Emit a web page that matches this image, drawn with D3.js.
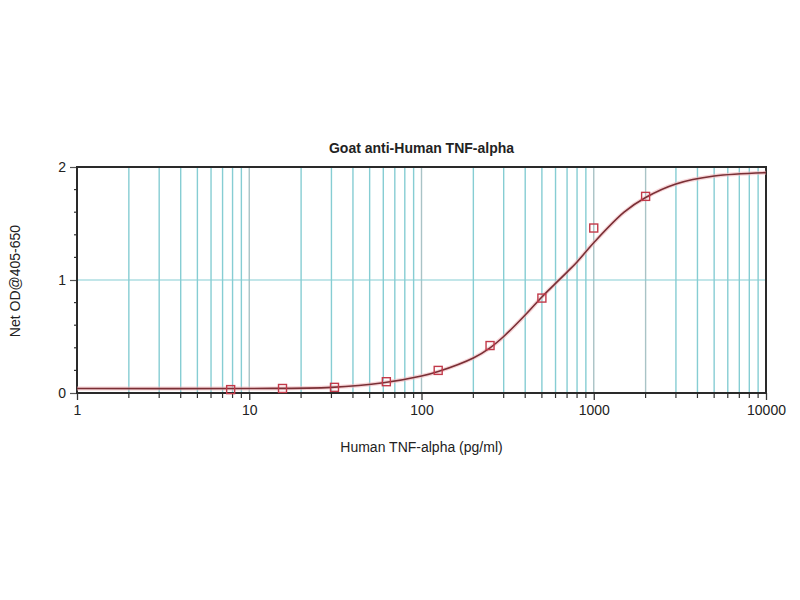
<!DOCTYPE html>
<html><head><meta charset="utf-8">
<script src="https://cdn.jsdelivr.net/npm/d3@7"></script>
<style>body{margin:0;background:#fff}svg{display:block}text{font-family:"Liberation Sans",Arial,sans-serif;fill:#222}</style>
</head><body><svg id="c" width="800" height="600"></svg>
<script>
const title = "Goat anti-Human TNF-alpha";
const xTitle = "Human TNF-alpha (pg/ml)";
const yTitle = "Net OD@405-650";
const xTickValues = [1, 10, 100, 1000, 10000];
const yTickValues = [0, 1, 2];
// measured standards
const pointX = [7.8, 15.6, 31.25, 62.5, 125, 250, 500, 1000, 2000];
const pointY = [0.03, 0.04, 0.05, 0.10, 0.20, 0.42, 0.84, 1.46, 1.74];
// fitted curve
const curveX = [1, 10, 30, 60, 100, 125, 200, 250, 300, 400, 500, 600, 700, 800, 1000, 1500, 2000, 3000, 5000, 10000];
const curveY = [0.04, 0.04, 0.05, 0.09, 0.15, 0.19, 0.31, 0.40, 0.50, 0.69, 0.85, 0.97, 1.07, 1.16, 1.33, 1.60, 1.73, 1.85, 1.92, 1.95];

const svg = d3.select("#c");
const L = 77, R = 766, T = 167, B = 393;
const x = d3.scaleLog().domain([1, 10000]).range([L, R]);
const y = d3.scaleLinear().domain([0, 2]).range([B, T]);

// minor values 2..9 per decade
const minor = [];
for (let d = 1; d < 10000; d *= 10) for (let k = 2; k <= 9; k++) minor.push(d * k);
const allX = minor.concat([10, 100, 1000]);

const grid = svg.append("g");
grid.selectAll("line.v").data(allX).enter().append("line")
  .attr("x1", d => x(d)).attr("x2", d => x(d)).attr("y1", T).attr("y2", B)
  .attr("stroke", (d, i) => [10,100,1000,2000].includes(d) ? "#a9c3c6" : "#86cdd3").attr("stroke-width", 1.4);
grid.append("line").attr("x1", L).attr("x2", R).attr("y1", y(1)).attr("y2", y(1))
  .attr("stroke", "#86cdd3").attr("stroke-width", 1.2);

// axes
const xAxis = d3.axisBottom(x).tickValues(xTickValues).tickFormat(d3.format("d")).tickSize(7).tickPadding(5);
const gx = svg.append("g").attr("transform", `translate(0,${B})`).call(xAxis);
gx.select(".domain").remove();
gx.selectAll("text").attr("font-size", 14).attr("fill", "#222");
gx.selectAll("line").attr("stroke", "#333").attr("stroke-width", 1.3);
svg.append("g").selectAll("line").data(minor).enter().append("line")
  .attr("x1", d => x(d)).attr("x2", d => x(d)).attr("y1", B).attr("y2", B + 5)
  .attr("stroke", "#333").attr("stroke-width", 1.2);

const yAxis = d3.axisLeft(y).tickValues(yTickValues).tickFormat(d3.format("d")).tickSize(7).tickPadding(4);
const gy = svg.append("g").attr("transform", `translate(${L},0)`).call(yAxis);
gy.select(".domain").remove();
gy.selectAll("text").attr("font-size", 14).attr("fill", "#222");
gy.selectAll("line").attr("stroke", "#555").attr("stroke-width", 1.2);
const yMinor = d3.range(0.2, 2, 0.2).filter(v => Math.abs(v - 1) > 0.01);
svg.append("g").selectAll("line").data(yMinor).enter().append("line")
  .attr("x1", L - 3).attr("x2", L).attr("y1", d => y(d)).attr("y2", d => y(d))
  .attr("stroke", "#333").attr("stroke-width", 1.2);

// frame
svg.append("rect").attr("x", L).attr("y", T).attr("width", R - L).attr("height", B - T)
  .attr("fill", "none").attr("stroke", "#2a2a2a").attr("stroke-width", 2);

// curve
const line = d3.line().x(d => x(d[0])).y(d => y(d[1])).curve(d3.curveCatmullRom.alpha(0.5));
svg.append("path").datum(curveX.map((v, i) => [v, curveY[i]]))
  .attr("d", line).attr("fill", "none").attr("stroke", "#f0b8bc").attr("stroke-width", 4).attr("opacity", 0.6);
svg.append("path").datum(curveX.map((v, i) => [v, curveY[i]]))
  .attr("d", line).attr("fill", "none").attr("stroke", "#7a2f35").attr("stroke-width", 1.6);

// points
svg.append("g").selectAll("rect").data(pointX.map((v, i) => [v, pointY[i]])).enter().append("rect")
  .attr("x", d => x(d[0]) - 4).attr("y", d => y(d[1]) - 4).attr("width", 8).attr("height", 8)
  .attr("fill", "none").attr("stroke", "#c23a4a").attr("stroke-width", 1.4);

// titles
svg.append("text").attr("x", (L + R) / 2).attr("y", 153).attr("text-anchor", "middle")
  .attr("font-size", 14).attr("font-weight", "bold").text(title);
svg.append("text").attr("x", (L + R) / 2).attr("y", 452).attr("text-anchor", "middle")
  .attr("font-size", 14).text(xTitle);
svg.append("text").attr("transform", "translate(20,281) rotate(-90)").attr("text-anchor", "middle")
  .attr("font-size", 14).text(yTitle);
</script></body></html>
